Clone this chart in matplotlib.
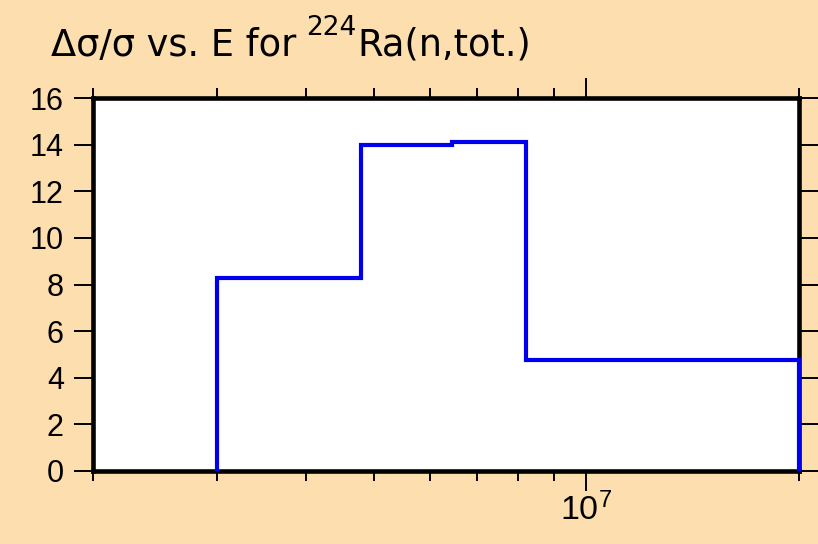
import matplotlib
matplotlib.use("Agg")
import matplotlib.pyplot as plt
from matplotlib.ticker import LogLocator, NullFormatter, FixedLocator
from matplotlib.transforms import offset_copy

# Data
edges = [3.0e6, 4.8e6, 6.45e6, 8.2e6, 2.0e7]
values = [8.3, 14.0, 14.1, 4.75]
yticks = [0, 2, 4, 6, 8, 10, 12, 14, 16]
title_parts = ['Δσ/σ vs. E for ', '224', 'Ra(n,tot.)']

plt.rcParams['font.family'] = ['Liberation Sans', 'DejaVu Sans']
plt.rcParams['mathtext.fontset'] = 'custom'
plt.rcParams['mathtext.rm'] = 'Liberation Sans'
plt.rcParams['mathtext.it'] = 'Liberation Sans'
plt.rcParams['mathtext.sf'] = 'Liberation Sans'

fig = plt.figure(figsize=(8.18, 5.44), dpi=100, facecolor='#FDDEAE')
ax = fig.add_axes([93/818, 1-471/544, (799-93)/818, (471-98)/544])
ax.set_facecolor('white')

ax.stairs(values, edges, baseline=0, color='#0000EE', linewidth=3, clip_on=False, zorder=3)

ax.set_xscale('log')
ax.set_xlim(2e6, 2e7)
ax.set_ylim(0, 16)
ax.set_yticks(yticks)
ax.set_yticklabels([str(v) for v in yticks])

ax.xaxis.set_major_locator(FixedLocator([1e7]))
ax.set_xticklabels([r'$10^{7}$'])
ax.xaxis.set_minor_locator(LogLocator(base=10, subs=[2, 3, 4, 5, 6, 7, 8, 9], numticks=20))
ax.xaxis.set_minor_formatter(NullFormatter())

for s in ax.spines.values():
    s.set_linewidth(3.3)
    s.set_color('black')

ax.tick_params(axis='y', which='major', direction='out', length=14, width=1.4,
               left=True, right=True, labelsize=22, pad=7)
ax.tick_params(axis='x', which='major', direction='out', length=14.5, width=1.4,
               top=True, bottom=True, labelsize=24.5, pad=1)
ax.tick_params(axis='x', which='minor', direction='out', length=7.5, width=1.4,
               top=True, bottom=True)

# Title built from pieces so the superscript sits high like the reference
tfam = ['DejaVu Sans']
renderer = fig.canvas.get_renderer()
t1 = fig.text(51/818, 1-56/544, title_parts[0], fontsize=26.5, family=tfam,
              ha='left', va='baseline')
w1 = t1.get_window_extent(renderer).width
t2 = fig.text(0, 0, title_parts[1], fontsize=19, family=tfam, ha='left', va='baseline',
              transform=offset_copy(fig.transFigure, fig=fig,
                                    x=51 + w1 - 2, y=544 - 35, units='dots'))
w2 = t2.get_window_extent(renderer).width
fig.text(0, 0, title_parts[2], fontsize=26.5, family=tfam, ha='left', va='baseline',
         transform=offset_copy(fig.transFigure, fig=fig,
                               x=51 + w1 - 2 + w2 + 1, y=544 - 56, units='dots'))

fig.savefig('out.png', dpi=100, facecolor=fig.get_facecolor())
